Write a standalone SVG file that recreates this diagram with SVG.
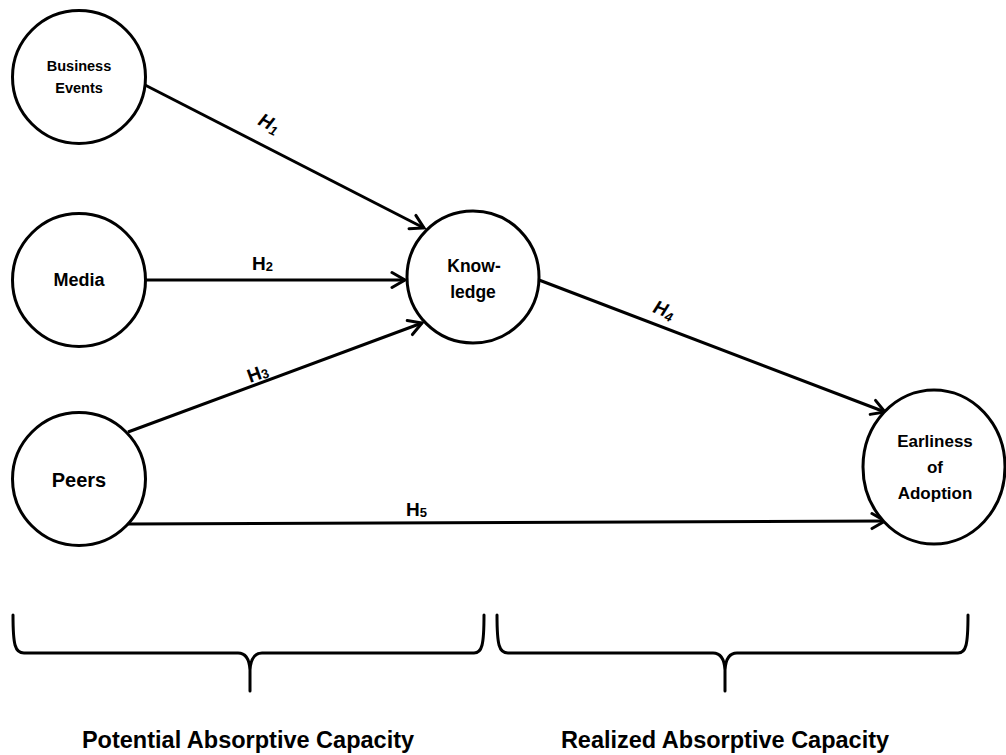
<svg xmlns="http://www.w3.org/2000/svg" width="1006" height="755" viewBox="0 0 1006 755">
<style>
.node{fill:#fff;stroke:#000;stroke-width:3}
.lbl{font-family:"Liberation Sans",Arial,sans-serif;font-weight:bold;fill:#000;text-anchor:middle}
.edge{stroke:#000;stroke-width:3;fill:none}
.brace{stroke:#000;stroke-width:3;fill:none;stroke-linecap:round}
.h{font-family:"Liberation Sans",Arial,sans-serif;font-weight:bold;font-size:19px;fill:#000}
</style>
<defs>
<marker id="arr" markerUnits="userSpaceOnUse" markerWidth="20" markerHeight="20" refX="15" refY="8" orient="auto" viewBox="0 0 20 16">
<path d="M2,0.5 L15,8 L2,15.5" fill="none" stroke="#000" stroke-width="3" stroke-linecap="round" stroke-linejoin="miter"/>
</marker>
</defs>
<g id="connectors">
<line class="edge" x1="145" y1="85" x2="424" y2="228" marker-end="url(#arr)"/>
<line class="edge" x1="146" y1="280" x2="405" y2="280" marker-end="url(#arr)"/>
<line class="edge" x1="128" y1="432" x2="422" y2="323" marker-end="url(#arr)"/>
<line class="edge" x1="539" y1="280" x2="885" y2="412" marker-end="url(#arr)"/>
<line class="edge" x1="128" y1="524" x2="885" y2="521" marker-end="url(#arr)"/>
<text class="h" font-style="italic" transform="translate(257,124) rotate(27)">H<tspan font-size="13" dy="3">1</tspan></text>
<text class="h" x="252" y="270">H<tspan font-size="13" dy="1">2</tspan></text>
<text class="h" transform="translate(250,383) rotate(-20)">H<tspan font-size="13" dy="1">3</tspan></text>
<text class="h" font-style="italic" transform="translate(652,312) rotate(21)">H<tspan font-size="13" dy="3">4</tspan></text>
<text class="h" x="406" y="516">H<tspan font-size="13" dy="1">5</tspan></text>
</g>
<g id="business-events">
<circle class="node" cx="79" cy="77" r="66.5"/>
<text class="lbl" font-size="14.5" x="79" y="71">Business</text>
<text class="lbl" font-size="14.5" x="79" y="93">Events</text>
</g>
<g id="media">
<circle class="node" cx="79" cy="280" r="66.5"/>
<text class="lbl" font-size="18" x="79" y="286">Media</text>
</g>
<g id="peers">
<circle class="node" cx="79" cy="479" r="66.5"/>
<text class="lbl" font-size="20" x="79" y="487">Peers</text>
</g>
<g id="knowledge">
<circle class="node" cx="473" cy="277" r="66"/>
<text class="lbl" font-size="17.5" x="474" y="272">Know-</text>
<text class="lbl" font-size="17.5" x="473" y="298">ledge</text>
</g>
<g id="earliness">
<ellipse class="node" cx="934" cy="467" rx="71" ry="77"/>
<text class="lbl" font-size="17" x="935" y="447">Earliness</text>
<text class="lbl" font-size="17" x="935" y="473">of</text>
<text class="lbl" font-size="17" x="935" y="499">Adoption</text>
</g>
<g id="potential">
<path class="brace" d="M13,615 C13,645 15,653 24,653 L238,653 Q249,653 250,670 L250,691 M250,670 Q251,653 262,653 L474,653 C482,653 484,645 484,615"/>
<text class="lbl" font-size="23.5" x="248" y="748">Potential Absorptive Capacity</text>
</g>
<g id="realized">
<path class="brace" d="M497,615 C497,645 499,653 508,653 L713,653 Q724,653 725,670 L725,691 M725,670 Q726,653 737,653 L958,653 C966,653 968,645 968,615"/>
<text class="lbl" font-size="23.5" x="725" y="748">Realized Absorptive Capacity</text>
</g>
</svg>
